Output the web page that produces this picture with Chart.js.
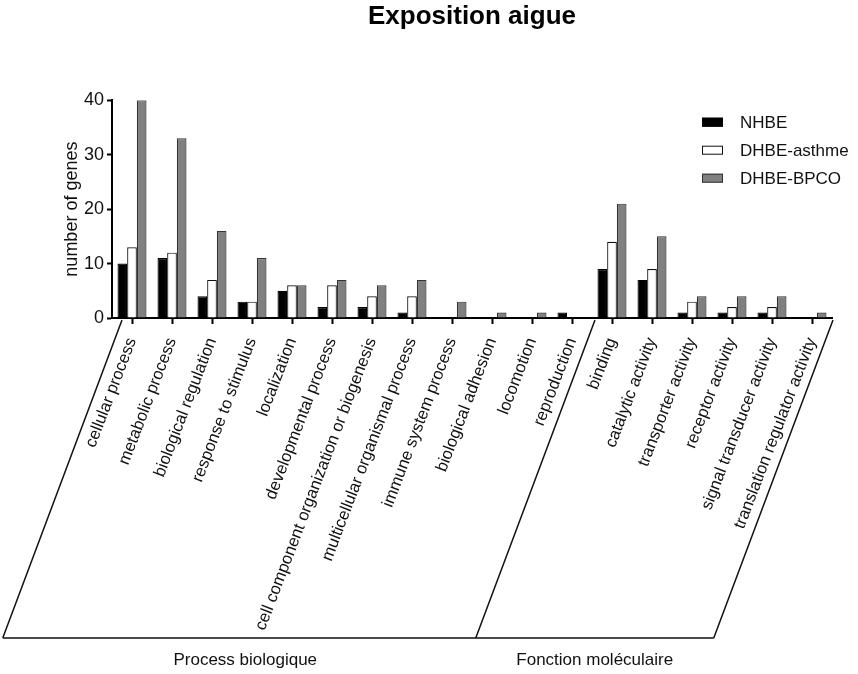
<!DOCTYPE html>
<html>
<head>
<meta charset="utf-8">
<script src="https://cdn.jsdelivr.net/npm/chart.js@4.4.1/dist/chart.umd.min.js"></script>
<style>
  html, body { margin: 0; padding: 0; background: #fff; }
  #wrap { width: 858px; height: 674px; }
</style>
</head>
<body>
<div id="wrap"><canvas id="goChart"></canvas></div>
<script>
"use strict";

const categories = [
    'cellular process', 'metabolic process', 'biological regulation', 'response to stimulus',
    'localization', 'developmental process', 'cell component organization or biogenesis',
    'multicellular organismal process', 'immune system process', 'biological adhesion',
    'locomotion', 'reproduction',
    'binding', 'catalytic activity', 'transporter activity', 'receptor activity',
    'signal transducer activity', 'translation regulator activity'
];
const groupNames = ['Process biologique', 'Fonction moléculaire'];
const groupSizes = [12, 6];

const nhbe   = [10, 11, 4, 3, 5, 2, 2, 1, 0, 0, 0, 1, 9, 7, 1, 1, 1, 0];
const asthme = [13, 12, 7, 3, 6, 6, 4, 4, 0, 0, 0, 0, 14, 9, 3, 2, 2, 0];
const bpco   = [40, 33, 16, 11, 6, 7, 6, 7, 3, 1, 1, 0, 21, 15, 4, 4, 4, 1];

const yTicks = [0, 10, 20, 30, 40];

const FONT = 'Arial, "Liberation Sans", sans-serif';

// legend drawn inside the plot, top right
const boxLegend = {
    id: 'boxLegend',
    afterDraw(chart) {
        const c = chart.ctx;
        const area = chart.chartArea;
        c.save();
        c.font = '17px ' + FONT;
        c.textBaseline = 'middle';
        chart.data.datasets.forEach((ds, i) => {
            const x = area.right - 130;
            const y = area.top + 22 + i * 28;
            c.fillStyle = ds.backgroundColor;
            c.fillRect(x, y - 4.5, 21, 9);
            c.strokeStyle = ds.borderColor;
            c.lineWidth = 1;
            c.strokeRect(x + 0.5, y - 4, 20, 8);
            c.fillStyle = '#111';
            c.fillText(ds.label, x + 38, y + 1);
        });
        c.restore();
    }
};

// slanted frame under the axis, splitting the two GO groups
const groupFrame = {
    id: 'groupFrame',
    afterDraw(chart) {
        const c = chart.ctx;
        const xs = chart.scales.x;
        const top = chart.chartArea.bottom + 2;
        const bottom = 638;
        const slant = 0.375 * (bottom - top);
        const half = (xs.getPixelForValue(1) - xs.getPixelForValue(0)) / 2;
        const tops = [xs.left + 10];
        let idx = 0;
        groupSizes.forEach((n) => {
            idx += n;
            if (idx < categories.length) {
                tops.push(xs.getPixelForValue(idx) - half + 3);
            }
        });
        tops.push(xs.right + 1);
        c.save();
        c.strokeStyle = '#111';
        c.lineWidth = 1.5;
        c.beginPath();
        tops.forEach((t) => {
            c.moveTo(t, top);
            c.lineTo(t - slant, bottom);
        });
        c.moveTo(tops[0] - slant, bottom);
        c.lineTo(tops[tops.length - 1] - slant, bottom);
        c.stroke();

        c.fillStyle = '#111';
        c.font = '17px ' + FONT;
        c.textAlign = 'center';
        c.textBaseline = 'middle';
        groupNames.forEach((name, i) => {
            const mid = (tops[i] + tops[i + 1]) / 2 - slant;
            c.fillText(name, mid + (i === 0 ? 6 : 0), bottom + 22);
        });
        c.restore();
    }
};

const ctx = document.getElementById('goChart').getContext('2d');

new Chart(ctx, {
    type: 'bar',
    data: {
        labels: categories,
        datasets: [
            { label: 'NHBE', data: nhbe, backgroundColor: '#000000', borderColor: '#000000' },
            { label: 'DHBE-asthme', data: asthme, backgroundColor: '#ffffff', borderColor: '#111111' },
            { label: 'DHBE-BPCO', data: bpco, backgroundColor: '#808080', borderColor: '#333333' }
        ]
    },
    options: {
        responsive: true,
        maintainAspectRatio: false,
        animation: false,
        datasets: {
            bar: {
                borderWidth: 1.2,
                categoryPercentage: 0.725,
                barPercentage: 1.0,
            }
        },
        layout: {
            padding: { left: 57, right: 26, top: 0, bottom: 0 }
        },
        plugins: {
            legend: { display: false },
            tooltip: { enabled: false },
            title: {
                display: true,
                fullSize: false,
                text: 'Exposition aigue',
                color: '#000',
                font: { family: FONT, size: 26, weight: 'bold' },
                padding: { top: 1, bottom: 68 }
            }
        },
        scales: {
            x: {
                offset: true,
                afterFit: (scale) => { scale.height = 356; },
                border: { display: true, color: '#000', width: 2 },
                grid: {
                    offset: false,
                    drawOnChartArea: false,
                    drawTicks: true,
                    tickLength: 6,
                    tickWidth: 2,
                    color: '#000'
                },
                ticks: {
                    autoSkip: false,
                    minRotation: 69,
                    maxRotation: 69,
                    padding: 11,
                    color: '#111',
                    font: { family: FONT, size: 16.7 }
                }
            },
            y: {
                min: 0,
                max: 40,
                afterFit: (scale) => { scale.width = 55; },
                afterBuildTicks: (scale) => {
                    scale.ticks = yTicks.map((v) => ({ value: v }));
                },
                border: { display: true, color: '#000', width: 2 },
                grid: {
                    drawOnChartArea: false,
                    drawTicks: true,
                    tickLength: 5,
                    tickWidth: 2,
                    color: '#000'
                },
                ticks: {
                    padding: 3,
                    color: '#111',
                    font: { family: FONT, size: 18 }
                },
                title: {
                    display: true,
                    text: 'number of genes',
                    color: '#111',
                    font: { family: FONT, size: 18 }
                }
            }
        }
    },
    plugins: [boxLegend, groupFrame]
});
</script>
</body>
</html>
